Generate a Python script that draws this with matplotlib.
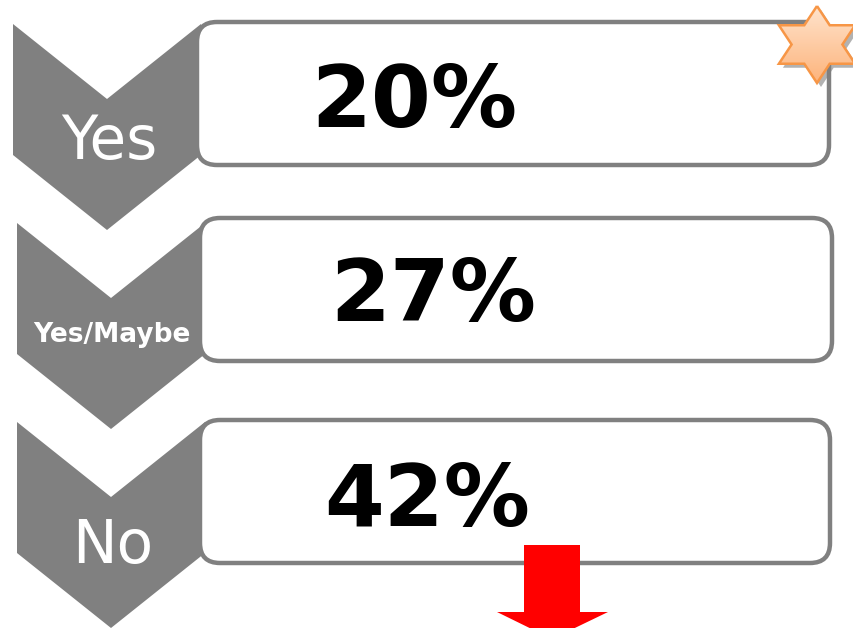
import numpy as np
import matplotlib
matplotlib.use("Agg")
import matplotlib.pyplot as plt
from matplotlib.patches import Polygon, FancyBboxPatch
from matplotlib.colors import LinearSegmentedColormap

# Survey answers and their shares
labels = ["Yes", "Yes/Maybe", "No"]
shares = [20, 27, 42]

W, H = 854, 628
fig = plt.figure(figsize=(W / 100, H / 100), dpi=100)
ax = fig.add_axes([0, 0, 1, 1])
ax.set_xlim(0, W)
ax.set_ylim(H, 0)
ax.axis("off")

gray = "#808080"

# layout of each row (pixels)
chev_left = [13, 17, 17]
chev_top = [24, 223, 422]
chev_w = 188
chev_side = 131        # height of vertical side
chev_depth = 75        # notch / point depth
box_x = [197, 200, 200]
box_y = [22, 218, 420]
box_w = [632, 632, 630]
box_h = 143
pct_x = [414, 433, 427]
pct_base = [127, 321, 526]
lab_x = [109, 112, 113]
lab_base = [159, 342, 563]
lab_size = [43, 19, 43]
lab_weight = ["normal", "bold", "normal"]

for i, (lab, val) in enumerate(zip(labels, shares)):
    x0 = chev_left[i]
    y0 = chev_top[i]
    xc = x0 + chev_w / 2
    pts = [(x0, y0), (xc, y0 + chev_depth), (x0 + chev_w, y0),
           (x0 + chev_w, y0 + chev_side), (xc, y0 + chev_side + chev_depth),
           (x0, y0 + chev_side)]
    ax.add_patch(Polygon(pts, closed=True, facecolor=gray, edgecolor="none", zorder=1))

    box = FancyBboxPatch((box_x[i], box_y[i]), box_w[i], box_h,
                         boxstyle="round,pad=0,rounding_size=20",
                         facecolor="white", edgecolor=gray, linewidth=3.2, zorder=2)
    ax.add_patch(box)

    ax.text(pct_x[i], pct_base[i], f"{val}%", fontsize=62, fontweight="bold",
            ha="center", va="baseline", color="black", zorder=3)
    ax.text(lab_x[i], lab_base[i], lab, fontsize=lab_size[i], fontweight=lab_weight[i],
            ha="center", va="baseline", color="white", zorder=3)

# six-pointed star with a soft gradient and shadow
cx, cy = 817, 44.5
rx, ry = 44, 38.5
ang = np.deg2rad(90 + 30 * np.arange(12))
rad = np.where(np.arange(12) % 2 == 0, 1.0, 1 / np.sqrt(3))
sx = cx + rx * rad * np.cos(ang)
sy = cy - ry * rad * np.sin(ang)
ax.add_patch(Polygon(np.c_[sx + 4, sy + 4], closed=True, facecolor="#7f7f7f",
                     alpha=0.6, edgecolor="none", zorder=4))
star = Polygon(np.c_[sx, sy], closed=True, facecolor="none",
               edgecolor="#F79646", linewidth=1.8, zorder=6)
ax.add_patch(star)
grad = np.linspace(0, 1, 100).reshape(-1, 1)
cmap = LinearSegmentedColormap.from_list("peach", ["#FFE3CC", "#FDB47C"])
im = ax.imshow(grad, cmap=cmap, extent=(cx - rx, cx + rx, cy + ry, cy - ry),
               aspect="auto", zorder=5)
im.set_clip_path(star)

# red down arrow under the last box
arrow = [(524, 545), (580, 545), (580, 612), (608, 612), (552, 639),
         (497, 612), (524, 612)]
ax.add_patch(Polygon(arrow, closed=True, facecolor="#FF0000", edgecolor="none", zorder=7))

fig.savefig("out.png", dpi=100)
